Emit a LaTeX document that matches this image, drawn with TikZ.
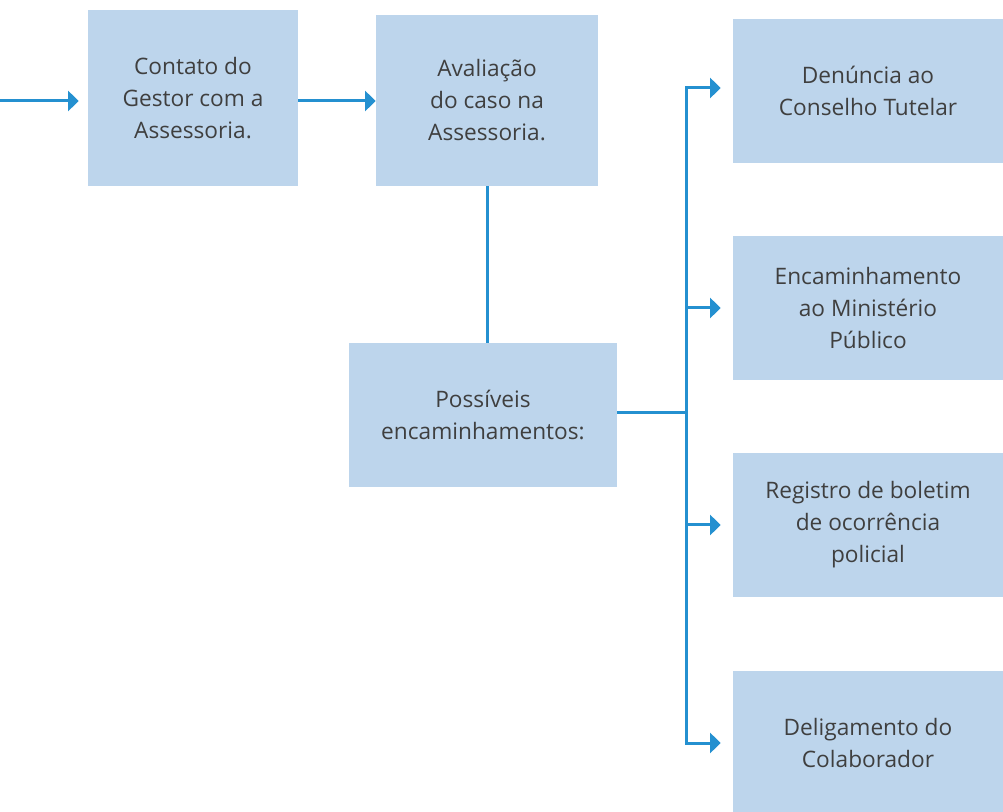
\documentclass[tikz,border=0pt]{standalone}
\usepackage{fontspec}
\setmainfont{Open Sans}
\usepackage{tikz}
\usetikzlibrary{arrows.meta}

\begin{document}
\begin{tikzpicture}
		[x=0.75pt,y=-0.75pt,
		%Styles
		step box/.style={rectangle,fill=boxblue,inner sep=0pt,align=center,
			text=textgray,font=\fontsize{17}{24}\selectfont,
			minimum width=#1},
		step box/.default=202.5pt,
		link/.style={draw=lineblue,line width=2.25pt},
		flow/.style={link,-{Triangle[length=8pt,width=15pt]}}
		]
		
		%Colors
		\definecolor{boxblue}{HTML}{BDD5EC}
		\definecolor{lineblue}{HTML}{2490D0}
		\definecolor{textgray}{HTML}{3F3F3F}
		
		\useasboundingbox (0,0) rectangle (1003,812);
		
		\node[step box=157.5pt,minimum height=132pt] (contato) at (193,98) {Contato do\\Gestor com a\\Assessoria.};
		\node[step box=166.5pt,minimum height=128.25pt] (avaliacao) at (487,100.5) {Avaliação\\do caso na\\Assessoria.};
		\node[step box=201pt,minimum height=108pt] (possiveis) at (483,415) {Possíveis\\encaminhamentos:};
		\node[step box,minimum height=108pt] (denuncia) at (868,91) {Denúncia ao\\Conselho Tutelar};
		\node[step box,minimum height=108pt] (ministerio) at (868,308) {Encaminhamento\\ao Ministério\\Público};
		\node[step box,minimum height=108pt] (boletim) at (868,525) {Registro de boletim\\de ocorrência\\policial};
		\node[step box,minimum height=108pt] (deligamento) at (868,743) {Deligamento do\\Colaborador};
		
		\coordinate (start) at (0,101);
		\coordinate (split) at (686,413);
		
		\draw[flow,shorten >=6.75pt] (start) -- (start -| contato.west);
		\draw[flow] (contato.east |- start) -- (avaliacao.west |- start);
		\draw[link] (avaliacao.south) -- (avaliacao.south |- possiveis.north);
		\draw[link] (possiveis.east |- split) -- (split);
		\draw[link,line cap=rect] (split |- 0,88) -- (split |- deligamento.west);
		
		\draw[flow,shorten >=9pt]
			(split |- 0,88) -- (denuncia.west |- 0,88);
		\foreach \target in {ministerio,boletim,deligamento}
			\draw[flow,shorten >=9pt] (split |- \target.west) -- (\target.west);
	\end{tikzpicture}
\end{document}
